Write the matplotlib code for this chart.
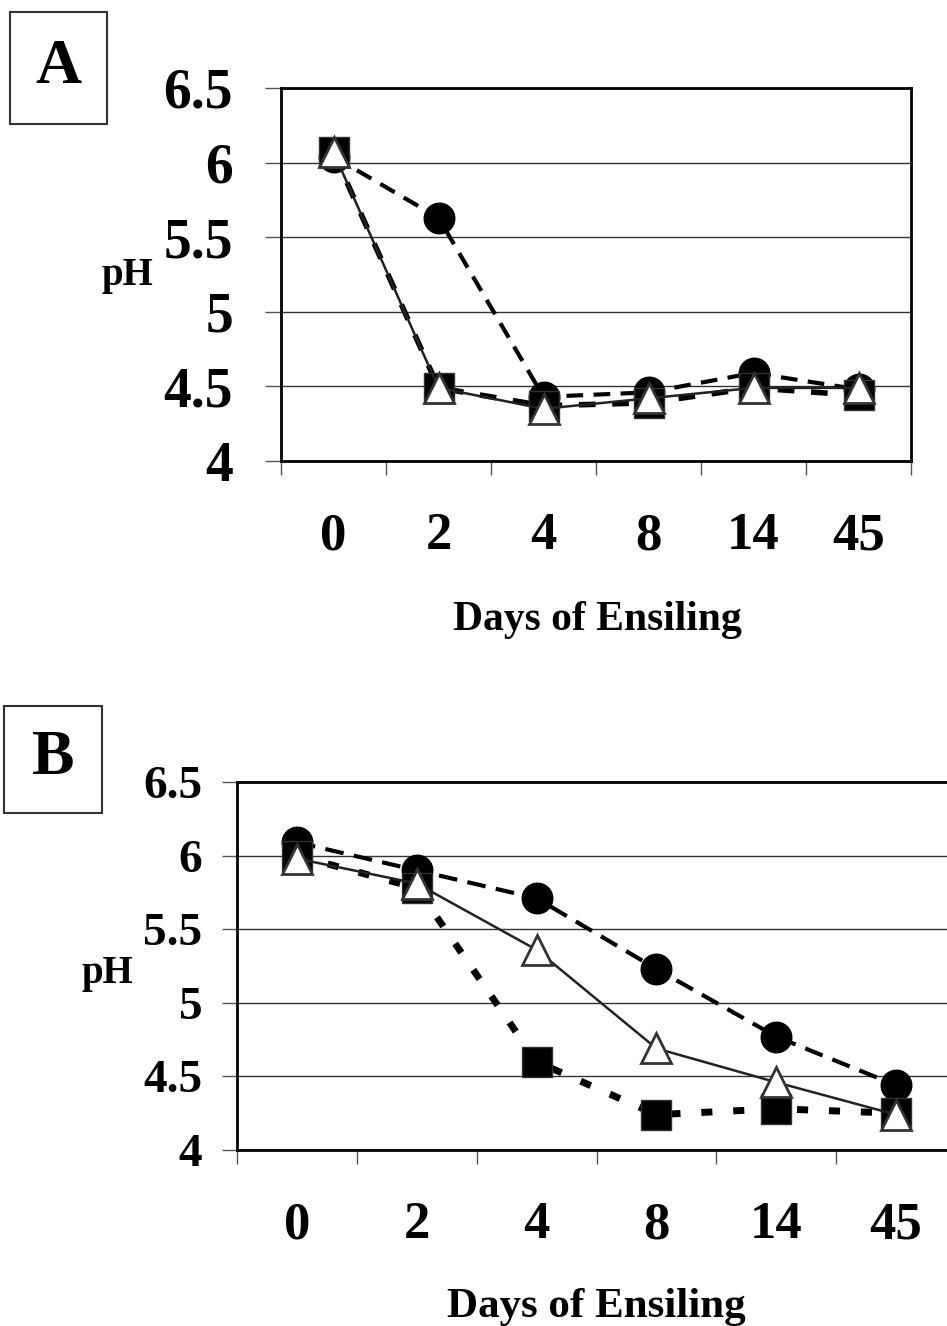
import matplotlib
matplotlib.use("Agg")
import matplotlib.pyplot as plt
import numpy as np
from matplotlib.patches import Rectangle

plt.rcParams['font.family'] = ['Liberation Serif', 'DejaVu Serif']
plt.rcParams['font.weight'] = 'bold'

days = ['0', '2', '4', '8', '14', '45']
yticks = [4, 4.5, 5, 5.5, 6, 6.5]
ytick_labels = ['4', '4.5', '5', '5.5', '6', '6.5']

# panel A
a_circle = [6.04, 5.63, 4.43, 4.46, 4.59, 4.48]
a_square = [6.07, 4.49, 4.37, 4.39, 4.49, 4.44]
a_triangle = [6.07, 4.49, 4.35, 4.42, 4.49, 4.49]

# panel B
b_circle = [6.09, 5.90, 5.71, 5.23, 4.77, 4.44]
b_square = [6.00, 5.78, 4.60, 4.24, 4.28, 4.25]
b_triangle = [5.98, 5.81, 5.36, 4.69, 4.46, 4.24]

W, H = 947, 1326
fig = plt.figure(figsize=(W / 100, H / 100), dpi=100)


def px(x, y):
    return x / W, 1 - y / H


def draw_panel(ax, circle, square, triangle, ysize, ypad, ylen,
               circle_ls, square_ls, square_lw):
    x = np.arange(len(days))
    ax.set_xlim(-0.5, len(days) - 0.5)
    ax.set_ylim(4, 6.5)

    ax.set_yticks(yticks)
    ax.set_yticklabels(ytick_labels, fontsize=ysize, fontweight='bold')
    ax.tick_params(axis='y', direction='out', length=ylen, width=1,
                   color='#555555', pad=ypad)

    # boundaries get tick marks, category centres get the labels
    ax.set_xticks(np.arange(-0.5, len(days), 1))
    ax.set_xticklabels([])
    ax.set_xticks(x, minor=True)
    ax.set_xticklabels(days, minor=True, fontsize=38, fontweight='bold')
    ax.tick_params(axis='x', which='major', direction='out', length=10,
                   width=1, color='#555555')
    ax.tick_params(axis='x', which='minor', length=0, pad=37)

    ax.yaxis.grid(True, color='#333333', lw=1)
    ax.set_axisbelow(True)
    for s in ax.spines.values():
        s.set_linewidth(2)
        s.set_color('black')

    ax.plot(x, circle, color='black', lw=3, linestyle=circle_ls,
            marker='o', ms=22, mfc='black', mec='black', zorder=3)
    ax.plot(x, square, color='black', lw=square_lw, linestyle=square_ls,
            marker='s', ms=22, mfc='black', mec='#333333', zorder=4)
    ax.plot(x, triangle, color='#222222', lw=1.8, linestyle='-',
            marker='^', ms=22, mfc='white', mec='#333333', mew=2, zorder=5)


axA = fig.add_axes([281 / W, 1 - 461 / H, 630 / W, 373 / H])
draw_panel(axA, a_circle, a_square, a_triangle, 40, 23, 11.5,
           (0, (4, 2.5)), (0, (3, 3)), 4)

axB = fig.add_axes([237 / W, 1 - 1150 / H, 719 / W, 368 / H])
draw_panel(axB, b_circle, b_square, b_triangle, 34, 14, 11,
           (0, (4.5, 2.5)), (0, (1.6, 3)), 5)

# axis titles
fig.text(*px(597, 630), 'Days of Ensiling', fontsize=30, fontweight='bold',
         ha='center', va='baseline')
fig.text(*px(596, 1317), 'Days of Ensiling', fontsize=31, fontweight='bold',
         ha='center', va='baseline')
fig.text(*px(127, 285), 'pH', fontsize=28, fontweight='bold',
         ha='center', va='baseline')
fig.text(*px(107, 983), 'pH', fontsize=28, fontweight='bold',
         ha='center', va='baseline')

# boxed panel letters
for (x0, y0, x1, y1), letter in [((10, 12, 107, 124), 'A'),
                                  ((4, 706, 102, 813), 'B')]:
    fig.patches.append(Rectangle(px(x0, y1), (x1 - x0) / W, (y1 - y0) / H,
                                 transform=fig.transFigure, fill=False,
                                 edgecolor='#333333', lw=1.5))
    fig.text(*px((x0 + x1) / 2, (y0 + y1) / 2), letter, fontsize=46,
             fontweight='bold', ha='center', va='center')

fig.savefig('out.png', dpi=100)
